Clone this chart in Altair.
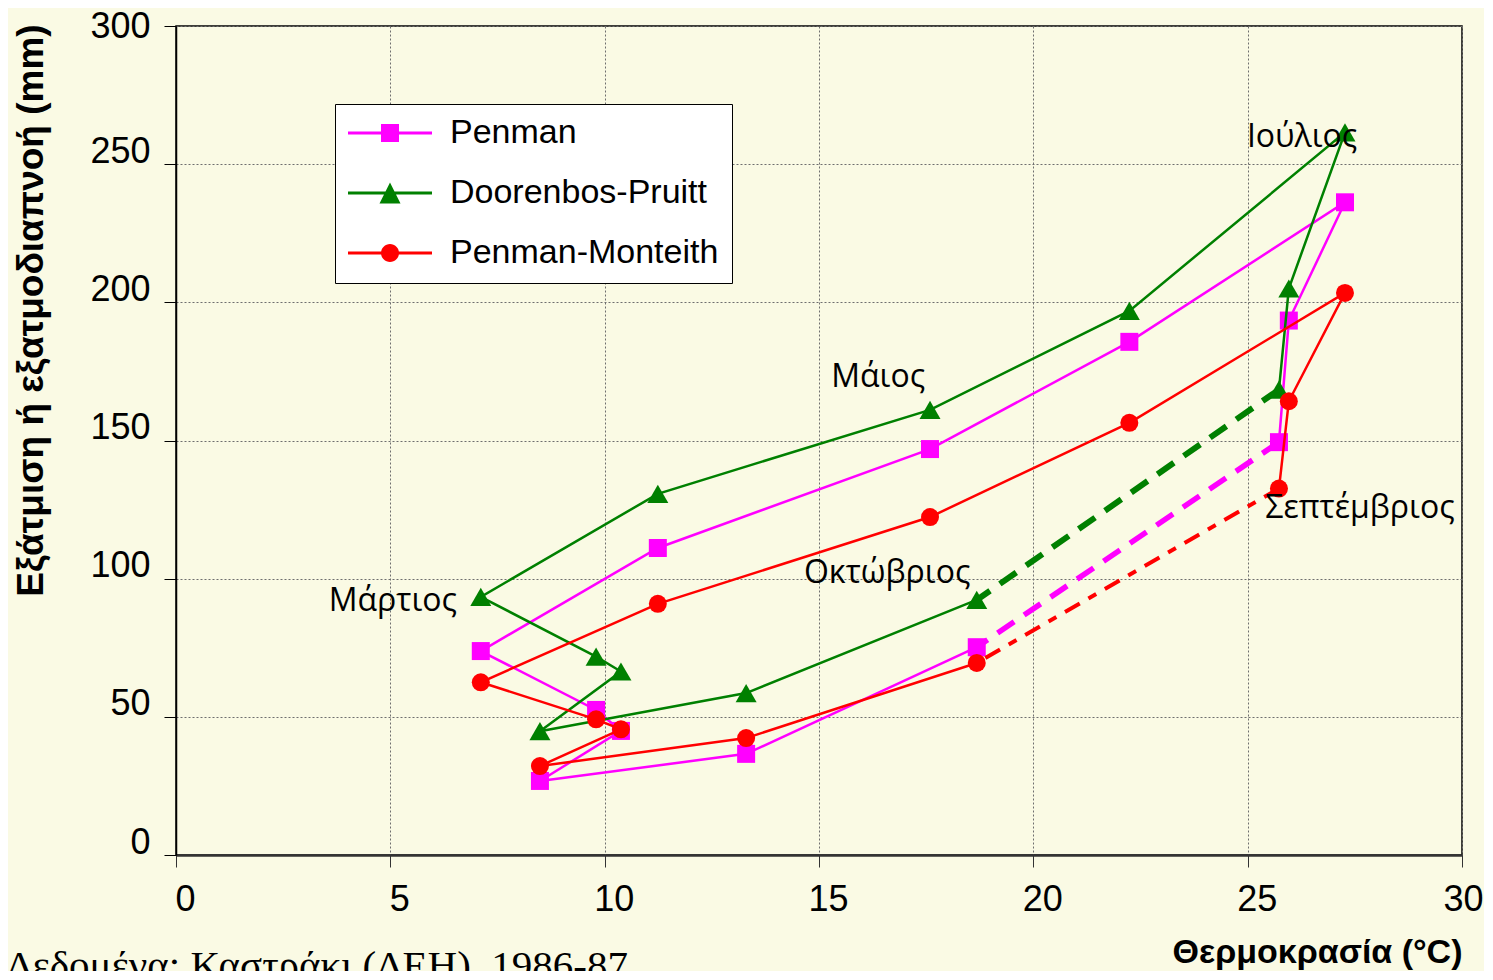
import altair as alt
import pandas as pd
import numpy as np

# ---------------- data ----------------
months = ["Οκτώβριος", "Νοέμβριος", "Δεκέμβριος", "Ιανουάριος", "Φεβρουάριος", "Μάρτιος",
          "Απρίλιος", "Μάιος", "Ιούνιος", "Ιούλιος", "Αύγουστος", "Σεπτέμβριος"]
temperature = [18.68, 13.30, 8.49, 10.38, 9.80, 7.11, 11.24, 17.59, 22.24, 27.27, 25.96, 25.73]
penman = [75.2, 36.6, 26.8, 44.9, 52.5, 73.8, 111.1, 146.9, 185.7, 236.2, 193.4, 149.4]
doorenbos = [92.3, 58.6, 44.8, 66.4, 71.8, 93.4, 130.7, 161.1, 196.9, 261.5, 205.0, 168.4]
monteith = [69.5, 42.3, 32.2, 45.5, 49.1, 62.5, 90.9, 122.3, 156.4, 203.4, 164.2, 132.6]

series_names = ["Penman", "Doorenbos-Pruitt", "Penman-Monteith"]
series_colors = ["#FF00FF", "#008000", "#FF0000"]
series_values = [penman, doorenbos, monteith]

label_text = ["Μάρτιος", "Μάιος", "Οκτώβριος", "Ιούλιος", "Σεπτέμβριος"]
label_x = [5.06, 16.38, 16.59, 26.27, 27.62]
label_y = [91.9, 173.0, 102.1, 259.9, 125.6]

x_ticks = [0, 5, 10, 15, 20, 25, 30]
y_ticks = [0, 50, 100, 150, 200, 250, 300]

x_title = "Θερμοκρασία (°C)"
y_title = "Εξάτμιση ή εξατμοδιαπνοή (mm)"
source_text = "Δεδομένα: Καστράκι (ΔΕΗ), 1986-87"

# ---------------- styles ----------------
BG = "#FAFAE4"
marker_shapes = ["square", "triangle-up", "circle"]
marker_sizes = [324, 441, 324]
dash_styles = [[20, 12], [20, 12], [17, 10, 9, 10]]
dash_widths = [5.5, 6, 4]


def poly(points):
    return "M" + " L".join(f"{x:.4f},{y:.4f}" for x, y in points) + " Z"


lh = 1.5 / 42
line_path = poly([(-1, -lh), (1, -lh), (1, lh), (-1, lh)])
sq = 9 / 42
square_path = poly([(-sq, -sq), (sq, -sq), (sq, sq), (-sq, sq)])
tr = 10.5 / 42
tri_path = poly([(0, -tr), (tr, tr), (-tr, tr)])
cr = 9 / 42
ang = np.linspace(0, 2 * np.pi, 33)[:-1]
circ_path = poly([(cr * np.cos(a), cr * np.sin(a)) for a in ang])
legend_paths = [line_path + " " + square_path,
                line_path + " " + tri_path,
                line_path + " " + circ_path]

# ---------------- tables ----------------
rows = []
for name, vals in zip(series_names, series_values):
    for i, (m, t, v) in enumerate(zip(months, temperature, vals)):
        rows.append({"series": name, "month": m, "order": i, "temp": t, "evap": v})
df = pd.DataFrame(rows)

dash_rows = []
for name, vals in zip(series_names, series_values):
    dash_rows.append({"series": name, "order": 0, "temp": temperature[-1], "evap": vals[-1]})
    dash_rows.append({"series": name, "order": 1, "temp": temperature[0], "evap": vals[0]})
df_dash = pd.DataFrame(dash_rows)

df_labels = pd.DataFrame({"text": label_text, "temp": label_x, "evap": label_y})
df_source = pd.DataFrame({"text": [source_text]})

# ---------------- scales / axes ----------------
x_enc = alt.X(
    "temp:Q",
    scale=alt.Scale(domain=[0, 30], nice=False, zero=False),
    axis=alt.Axis(
        values=x_ticks, format="d", grid=True, gridColor="#6E6E6E", gridDash=[2, 2], gridWidth=1,
        tickSize=12, tickColor="#333333", tickWidth=1,
        labelFont="Arial", labelFontSize=36, labelColor="black", labelPadding=15,
        labelOffset={"condition": {"test": "datum.value === 30", "value": 1}, "value": 9},
        labelFlush=False, labelOverlap=False, labelBound=False,
        domainColor="#333333", domainWidth=2.5,
        title=x_title, titleFont="Arial", titleFontSize=34, titleFontWeight="bold", titleColor="black",
        titleX=1286, titleY=107, titleAlign="right", titleBaseline="alphabetic", titleAngle=0,
    ),
)
y_enc = alt.Y(
    "evap:Q",
    scale=alt.Scale(domain=[0, 300], nice=False, zero=False),
    axis=alt.Axis(
        values=y_ticks, format="d", grid=True, gridColor="#6E6E6E", gridDash=[2, 2], gridWidth=1,
        tickSize=12, tickColor="black", tickWidth=1,
        labelFont="Arial", labelFontSize=36, labelColor="black", labelPadding=14,
        labelOffset={"condition": {"test": "datum.value === 300", "value": 0}, "value": -13},
        labelFlush=False, labelOverlap=False, labelBound=False,
        domainColor="black", domainWidth=1.5,
        title=y_title, titleFont="Arial", titleFontSize=37, titleFontWeight="bold", titleColor="black",
        titleX=-134, titleY=284, titleAlign="center", titleBaseline="alphabetic", titleAngle=-90,
    ),
)

layers = []
for name, color, shape, size, dash, dw in zip(series_names, series_colors, marker_shapes,
                                                marker_sizes, dash_styles, dash_widths):
    solid = alt.Chart(df[df.series == name]).mark_line(color=color, strokeWidth=2.5).encode(
        x=x_enc, y=y_enc, order=alt.Order("order:Q"))
    dashed = alt.Chart(df_dash[df_dash.series == name]).mark_line(
        color=color, strokeWidth=dw, strokeDash=dash).encode(
        x=x_enc, y=y_enc, order=alt.Order("order:Q"))
    pts = alt.Chart(df[df.series == name]).mark_point(
        shape=shape, size=size, filled=True, color=color, opacity=1, strokeWidth=0).encode(
        x=x_enc, y=y_enc)
    layers += [solid, dashed, pts]

legend_props = dict(
    title=None, orient="none", legendX=159, legendY=78, padding=13,
    fillColor="white", strokeColor="black",
    labelFont="Arial", labelFontSize=34, labelColor="black", labelOffset=18, labelLimit=0,
    symbolSize=7056, symbolStrokeWidth=0, symbolOpacity=1, symbolOffset=0,
    clipHeight=32, rowPadding=26,
)
legend_layer = alt.Chart(df).mark_point(filled=True, opacity=0).encode(
    x=x_enc, y=y_enc,
    color=alt.Color("series:N", scale=alt.Scale(domain=series_names, range=series_colors),
                    legend=alt.Legend(**legend_props)),
    shape=alt.Shape("series:N", scale=alt.Scale(domain=series_names, range=legend_paths),
                    legend=alt.Legend(**legend_props)),
)

labels = alt.Chart(df_labels).mark_text(
    font="Open Sans", fontSize=32, color="black", align="center", baseline="middle").encode(
    x=x_enc, y=y_enc, text="text:N")

source = alt.Chart(df_source).mark_text(
    font="Liberation Serif", fontSize=41, color="black", align="right", baseline="alphabetic").encode(
    text="text:N", x=alt.value(452), y=alt.value(953))

chart = alt.layer(*layers, legend_layer, labels, source).properties(
    width=1286, height=829,
    autosize=alt.AutoSizeParams(type="none"),
    padding={"left": 168, "top": 18, "right": 22, "bottom": 116},
    background=BG,
).configure_view(fill=BG, stroke="black", strokeWidth=1.5)

chart.save("out.html", embed_options={"renderer": "svg", "actions": False})
